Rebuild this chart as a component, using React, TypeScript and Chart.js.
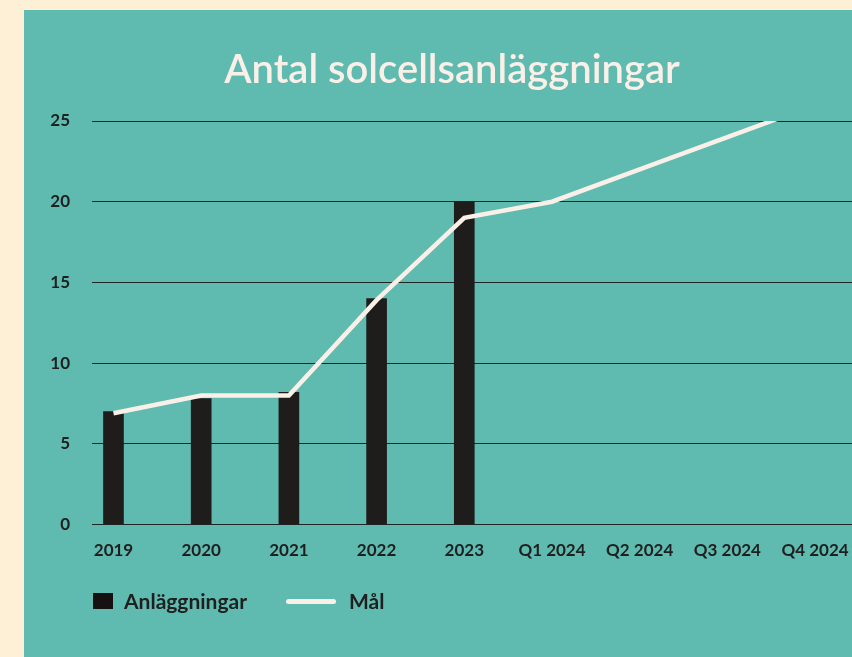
import React, { useEffect, useRef } from "react";
import { Chart, registerables } from "chart.js";

Chart.register(...registerables);

const categories = ["2019", "2020", "2021", "2022", "2023", "Q1 2024", "Q2 2024", "Q3 2024", "Q4 2024"];
const anlaggningar = [7, 7.8, 8.2, 14, 20, null, null, null, null];
const mal = [6.9, 8, 8, 13.9, 19, 20, 22, 24, 26];
const yTicks = [0, 5, 10, 15, 20, 25];

const TEAL = "#5FBAB0";
const CREAM = "#FEF0D7";
const LINE = "#FAF0E8";
const DARK = "#1E1D1B";
const FONT = "Lato, 'Open Sans', sans-serif";

export default function App() {
  const ref = useRef<HTMLCanvasElement | null>(null);

  useEffect(() => {
    if (!ref.current) return;
    const chart = new Chart(ref.current, {
      type: "bar",
      data: {
        datasets: [
          {
            type: "line",
            label: "Mål",
            data: mal.map((v, i) => ({ x: i, y: v })),
            borderColor: LINE,
            backgroundColor: LINE,
            borderWidth: 4.5,
            pointRadius: 0,
            pointHoverRadius: 0,
            tension: 0,
            order: 0,
          } as any,
          {
            type: "bar",
            label: "Anläggningar",
            data: anlaggningar.map((v, i) => ({ x: i, y: v })),
            backgroundColor: DARK,
            borderWidth: 0,
            barThickness: 20,
            order: 1,
          } as any,
        ],
      },
      options: {
        responsive: false,
        animation: false,
        devicePixelRatio: 1,
        layout: { padding: { left: 0, right: 0, top: 0, bottom: 80 } },
        plugins: {
          legend: { display: false },
          tooltip: { enabled: false },
          title: {
            display: true,
            text: "Antal solcellsanläggningar",
            color: LINE,
            font: { family: FONT, size: 40, weight: "600" as any },
            padding: { top: 36, bottom: 27 },
          },
        },
        scales: {
          x: {
            type: "linear",
            min: -0.245,
            max: 8.74,
            offset: false,
            grid: { display: false, drawTicks: false },
            border: { display: false },
            afterBuildTicks: (axis: any) => {
              axis.ticks = categories.map((_, i) => ({ value: i }));
            },
            afterFit: (axis: any) => {
              axis.paddingLeft = 0;
              axis.paddingRight = 0;
            },
            ticks: {
              autoSkip: false,
              maxRotation: 0,
              padding: 16,
              color: "#1F1F1F",
              font: { family: FONT, size: 17, weight: "bold" },
              callback: (v: any) => categories[Math.round(Number(v))] ?? "",
            },
          },
          y: {
            min: 0,
            max: 25,
            afterBuildTicks: (axis: any) => {
              axis.ticks = yTicks.map((v) => ({ value: v }));
            },
            afterFit: (axis: any) => {
              axis.width = 68;
            },
            grid: { color: "#1F2624", lineWidth: 1, drawTicks: false },
            border: { display: false },
            ticks: {
              padding: 22,
              color: "#1F1F1F",
              font: { family: FONT, size: 17, weight: "bold" },
            },
          },
        },
      },
    });
    return () => chart.destroy();
  }, []);

  const legendText: React.CSSProperties = {
    position: "absolute",
    top: 578,
    fontFamily: FONT,
    fontWeight: 700,
    fontSize: 21,
    lineHeight: "26px",
    color: "#1F1F1F",
    whiteSpace: "nowrap",
  };

  return (
    <div style={{ position: "fixed", left: 0, top: 0, width: 852, height: 657, overflow: "hidden", background: CREAM }}>
      <div style={{ position: "absolute", left: 24, top: 10, width: 856, height: 647, background: TEAL }}>
        <canvas ref={ref} width={856} height={647} style={{ display: "block", width: 856, height: 647 }} />
        <span style={{ position: "absolute", left: 69, top: 583, width: 20, height: 16, background: "#141110" }} />
        <span style={{ ...legendText, left: 100 }}>Anläggningar</span>
        <span style={{ position: "absolute", left: 262, top: 589, width: 50, height: 5, borderRadius: 3, background: LINE }} />
        <span style={{ ...legendText, left: 325 }}>Mål</span>
      </div>
    </div>
  );
}
